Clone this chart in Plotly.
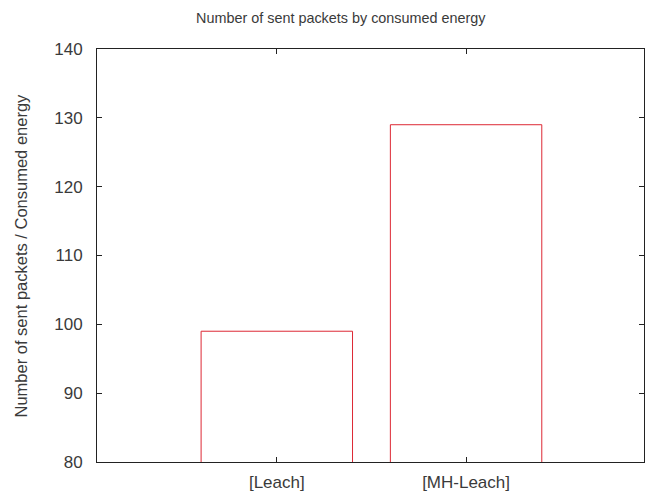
import plotly.graph_objects as go

# Data
categories = ["[Leach]", "[MH-Leach]"]
packets_per_energy = [99, 129]
y_ticks = [80, 90, 100, 110, 120, 130, 140]

W, H = 649, 494
ML, MR, MT, MB = 97, 5, 49, 32
plot_w = W - ML - MR

bar_color = "rgb(221,40,52)"
text_color = "#3a3a3a"
font_family = "Liberation Sans, Arial, sans-serif"

fig = go.Figure(
    go.Bar(
        x=[0, 1],
        y=packets_per_energy,
        width=0.8,
        marker=dict(color="rgba(255,255,255,0)", line=dict(color=bar_color, width=1)),
        hoverinfo="x+y",
    )
)

axis_common = dict(
    showline=True,
    mirror="ticks",
    linecolor="#222222",
    linewidth=1,
    ticks="inside",
    ticklen=5,
    tickwidth=1,
    tickcolor="#222222",
    showgrid=False,
    zeroline=False,
    automargin=False,
    tickfont=dict(family=font_family, size=17, color=text_color),
)

fig.update_xaxes(
    **axis_common,
    range=[-0.95, 1.94],
    tickmode="array",
    tickvals=[0, 1],
    ticktext=categories,
    ticklabelstandoff=5,
)
fig.update_yaxes(
    **axis_common,
    range=[80, 140],
    tickmode="array",
    tickvals=y_ticks,
    ticktext=[str(v) for v in y_ticks],
    ticklabelstandoff=10,
)

fig.update_layout(
    width=W,
    height=H,
    margin=dict(l=ML, r=MR, t=MT, b=MB),
    paper_bgcolor="white",
    plot_bgcolor="white",
    showlegend=False,
    font=dict(family=font_family, color=text_color),
    annotations=[
        dict(
            text="Number of sent packets by consumed energy",
            xref="paper", yref="paper",
            x=(341 - ML) / plot_w, y=1 + (MT - 18) / (H - MT - MB),
            xanchor="center", yanchor="middle",
            showarrow=False,
            font=dict(family=font_family, size=14.4, color=text_color),
        ),
        dict(
            text="Number of sent packets / Consumed energy",
            xref="paper", yref="paper",
            x=(20 - ML) / plot_w, y=0.5,
            xanchor="center", yanchor="middle",
            textangle=-90,
            showarrow=False,
            font=dict(family=font_family, size=16.5, color=text_color),
        ),
    ],
)

fig.write_html("out.html")
